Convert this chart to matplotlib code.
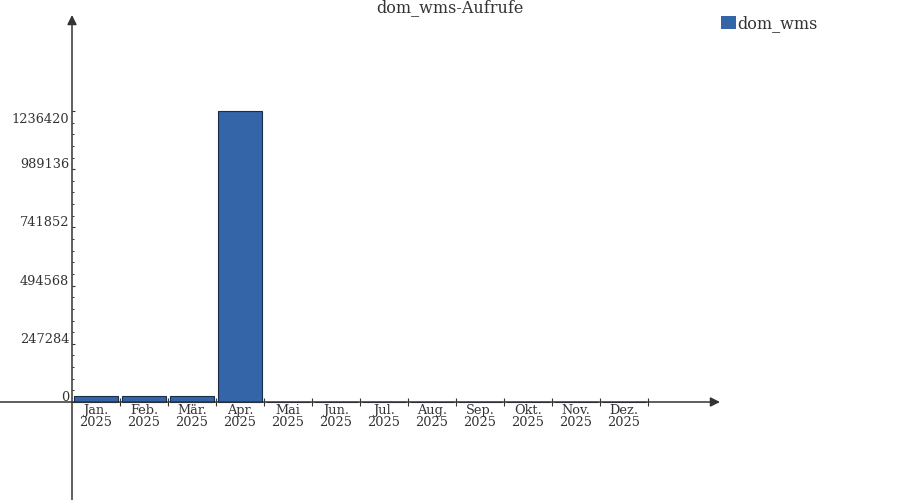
import matplotlib
matplotlib.use("Agg")
import matplotlib.pyplot as plt
import matplotlib.transforms as mtransforms
from matplotlib.patches import Patch

# ---- data ----
months = ["Jan.", "Feb.", "Mär.", "Apr.", "Mai", "Jun.", "Jul.", "Aug.", "Sep.", "Okt.", "Nov.", "Dez."]
year = "2025"
calls = [26000, 26000, 26000, 1236420, 0, 0, 0, 0, 0, 0, 0, 0]
y_ticks = [0, 247284, 494568, 741852, 989136, 1236420]
series_name = "dom_wms"
title = "dom_wms-Aufrufe"

plt.rcParams["font.family"] = ["DejaVu Serif"]
TXT = "#333333"
AX = "#333333"
FILL = "#3465a9"
EDGE = "#1c2b48"

fig = plt.figure(figsize=(9, 5), dpi=100)
ax = fig.add_axes([0, 0, 1, 1])

# pixel geometry mapping
k = y_ticks[-1] / 291.0           # value per pixel
xlo, xhi = -2.0, 16.75
ylo, yhi = -98 * k, 402 * k
ax.set_xlim(xlo, xhi)
ax.set_ylim(ylo, yhi)

x = list(range(len(months)))
ax.bar(x, calls, width=0.9, color=FILL, edgecolor=EDGE, linewidth=0.8, zorder=3)

for s in ax.spines.values():
    s.set_visible(False)
ax.spines["left"].set_position(("data", -0.5))
ax.spines["bottom"].set_position(("data", 0))

# axis lines with arrows
arrow_kw = dict(arrowstyle="-|>", color=AX, lw=1.1, mutation_scale=14, shrinkA=0, shrinkB=0)
ax.annotate("", xy=(-0.5, (402 - 15) * k), xytext=(-0.5, ylo), arrowprops=arrow_kw, zorder=4)
ax.annotate("", xy=(-0.5 + 648 / 48, 0), xytext=(xlo, 0), arrowprops=arrow_kw, zorder=4)

# y ticks
ax.set_yticks(y_ticks)
ax.set_yticklabels([str(v) for v in y_ticks])
minor = []
step = y_ticks[1] / 5.0
for i in range(len(y_ticks) - 1):
    for j in range(1, 5):
        minor.append(y_ticks[i] + j * step)
ax.set_yticks(minor, minor=True)
ax.tick_params(axis="y", which="major", direction="in", length=2.5, width=0.8, color=AX,
               labelsize=9.3, labelcolor=TXT, pad=2)
ax.tick_params(axis="y", which="minor", direction="in", length=1.5, width=0.7, color=AX)
for i, lab in enumerate(ax.get_yticklabels()):
    dy = -7 if i == len(y_ticks) - 1 else 6
    lab.set_transform(lab.get_transform() + mtransforms.ScaledTranslation(0, dy / 100, fig.dpi_scale_trans))

# x ticks: marks at slot boundaries, labels at centers
ax.set_xticks([i + 0.5 for i in x])
ax.set_xticklabels([])
ax.set_xticks(x, minor=True)
ax.set_xticklabels([f"{m}\n{year}" for m in months], minor=True)
ax.tick_params(axis="x", which="major", direction="inout", length=6, width=0.8, color=AX)
ax.tick_params(axis="x", which="minor", length=0, labelsize=9.3, labelcolor=TXT, pad=1.5)
for lab in ax.get_xticklabels(minor=True):
    lab.set_linespacing(0.85)

fig.text(0.5, 1 - 8 / 500, title, ha="center", va="center", fontsize=11.5, color=TXT)

ax.legend(handles=[Patch(facecolor=FILL, edgecolor="none", label=series_name)],
          loc="upper left", bbox_to_anchor=(721 / 900, 1 - 15 / 500), bbox_transform=fig.transFigure,
          frameon=False, borderpad=0, borderaxespad=0, handlelength=0.95, handleheight=0.95,
          handletextpad=0.05, fontsize=11.5, labelcolor=TXT)

fig.savefig("out.png", dpi=100)
